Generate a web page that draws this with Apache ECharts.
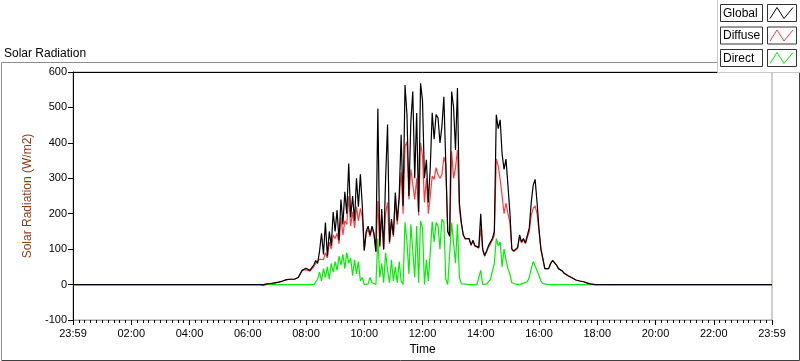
<!DOCTYPE html>
<html>
<head>
<meta charset="utf-8">
<title>Solar Radiation</title>
<script src="https://cdn.jsdelivr.net/npm/echarts@6.0.0/dist/echarts.min.js"></script>
<style>
  html, body { margin: 0; padding: 0; background: #fff; }
  #chart { width: 800px; height: 361px; }
</style>
</head>
<body>
<div id="chart"></div>
<script>
// readings every 4 minutes from 06:00 to 18:00, zero the rest of the day
var startMinute = 360
var stepMinutes = 4
var seriesNames = ['Global', 'Diffuse', 'Direct']
var seriesColors = ['#000000', '#ff3c3c', '#00f000']
var timeLabels = ['23:59', '02:00', '04:00', '06:00', '08:00', '10:00', '12:00',
  '14:00', '16:00', '18:00', '20:00', '22:00', '23:59']

var globalRad = [
  0, 0, 0, 0, 0, 0, 0, 0, 0,
  1, 2, 3, 3, 4, 5, 6, 7,
  8, 10, 12, 14, 15, 15, 16, 15, 17, 20,
  22,
  40, 38, 46, 44, 40, 48, 55, 68, 60, 95,
  145, 85, 175, 80, 150, 110, 205, 150, 210, 125,
  240, 170, 262, 200, 342, 190, 250, 180, 300, 220,
  311, 222, 96, 150, 165, 140, 165, 145, 93, 497,
  110, 213, 100, 300, 452, 120, 185, 140, 260, 180,
  250, 423, 222, 563, 480, 250, 460, 545, 300, 484,
  205, 568, 520, 300, 352, 232, 330, 485, 410, 480,
  470, 400, 446, 530, 535, 150, 138, 545, 500, 380,
  555, 230, 176, 140, 130, 125, 130, 112, 125, 110,
  112, 105, 200, 100, 82, 95, 110, 105, 130, 150,
  479, 440, 465, 368, 325, 354, 280, 205, 101, 95,
  90, 105, 140, 120, 130, 118, 115, 160, 232, 280,
  297, 232, 157, 100, 73, 45, 40, 45, 60, 68,
  66, 55, 45, 42, 38, 32, 28, 25, 22, 19,
  16, 13, 11, 10, 9, 8, 6, 4, 2, 1,
  0, 0, 0
]

var diffuseRad = [
  0, 0, 0, 0, 0, 0, 0,
  -3, -3,
  1, 2, 3, 3, 4, 5, 6, 7,
  8, 10, 12, 14, 15, 15, 16, 15, 17, 20,
  22,
  40, 38, 42, 40, 38, 44, 50, 60, 58, 72,
  75, 70, 90, 75, 120, 100, 140, 130, 145, 115,
  190, 140, 180, 170, 250, 165, 205, 160, 220, 180,
  215, 190, 96, 145, 155, 135, 160, 140, 93, 236,
  105, 190, 98, 200, 232, 115, 175, 135, 236, 170,
  240, 317, 200, 390, 404, 240, 325, 330, 240, 300,
  195, 400, 362, 232, 300, 200, 250, 306, 297, 330,
  310, 300, 310, 360, 340, 150, 135, 376, 300, 330,
  380, 213, 170, 140, 128, 124, 128, 110, 122, 108,
  110, 103, 160, 98, 80, 92, 105, 102, 125, 140,
  355, 335, 297, 250, 200, 230, 200, 175, 99, 93,
  88, 102, 135, 118, 126, 115, 112, 150, 195, 215,
  222, 200, 150, 98, 72, 45, 40, 45, 60, 68,
  66, 55, 45, 42, 38, 32, 28, 25, 22, 19,
  16, 13, 11, 10, 9, 8, 6, 4, 2, 1,
  0, 0, 0
]

var directRad = [
  0, 0, 0, 0, 0, 0, 0, 0, 0, 0,
  0, 0, 0, 0, 0, 0, 0, 0, 0, 0,
  0, 0, 0, 0, 0, 0, 0, 0, 0, 0,
  0, 0, 0, 0, 0,
  0, 15, 35, 10, 45, 20, 50, 15, 60, 35,
  65, 40, 80, 55, 85, 45, 90, 60, 75, 25,
  70, 30, 65, 10, 20, 0, 5, 2, 20, 5,
  2, 0, 130, 20, 60, 5, 90, 40, 5, 70,
  10, 50, 5, 65, 10, 0, 176, 120, 30, 170,
  175, 20, 165, 5, 180, 160, 0, 70, 10, 90,
  178, 120, 175, 165, 100, 185, 175, 15, 0, 5,
  175, 175, 60, 170, 20, 2, 2, 1, 1, 0,
  1, 0, 1, 0, 0, 40, 0, 0, 1, 5,
  15, 15, 60, 130, 110, 120, 50, 100, 70, 45,
  30, 5, 2, 1, 1, 0, 2, 4, 3, 8,
  20, 45, 65, 68, 40, 25, 10, 3, 0, 0,
  0, 0, 0, 0, 0, 0, 0, 0, 0, 0,
  0, 0, 0, 0, 0, 0, 0, 0, 0, 0,
  0, 0, 0, 0, 0, 0
]

var font = 'Liberation Sans, Arial, sans-serif'

function toPoints(values) {
  var pts = [[0, 0]]
  values.forEach(function (v, i) {
    pts.push([startMinute + i * stepMinutes, v])
  })
  pts.push([1440, 0])
  return pts
}

function lineSeries(idx, values) {
  return {
    name: seriesNames[idx],
    type: 'line',
    data: toPoints(values),
    showSymbol: false,
    symbol: 'none',
    animation: false,
    lineStyle: { color: seriesColors[idx], width: 1.2 },
    itemStyle: { color: seriesColors[idx] }
  }
}

// legend drawn LabVIEW style: name box + zigzag sample box
var legendParts = [{
  type: 'rect',
  shape: { x: 717.5, y: -1, width: 84, height: 73.5 },
  style: { fill: '#fff', stroke: '#c8c8c8', lineWidth: 1 },
  z: 10
}]
seriesNames.forEach(function (name, k) {
  var y0 = 4.5 + k * 22.5
  legendParts.push({
    type: 'rect',
    shape: { x: 720.5, y: y0, width: 42, height: 17 },
    style: { fill: '#fff', stroke: '#333', lineWidth: 1 },
    z: 11
  })
  legendParts.push({
    type: 'text',
    x: 723, y: y0 + 9,
    style: { text: name, fill: '#000', fontSize: 12, fontFamily: font, verticalAlign: 'middle' },
    z: 12
  })
  legendParts.push({
    type: 'rect',
    shape: { x: 767.5, y: y0, width: 29, height: 17 },
    style: { fill: '#fff', stroke: '#333', lineWidth: 1 },
    z: 11
  })
  legendParts.push({
    type: 'polyline',
    shape: { points: [[770, y0 + 14], [777, y0 + 3], [784, y0 + 14], [793, y0 + 3]] },
    style: { stroke: seriesColors[k], lineWidth: 1, fill: null },
    z: 12
  })
})

var chart = echarts.init(document.getElementById('chart'), null, { renderer: 'canvas' })
chart.setOption({
  backgroundColor: '#fff',
  animation: false,
  textStyle: { fontFamily: font },
  title: {
    text: 'Solar Radiation',
    left: -1,
    top: 43,
    textStyle: { fontSize: 12, fontWeight: 'normal', color: '#000', fontFamily: font }
  },
  grid: {
    left: 73,
    right: 28,
    top: 72,
    bottom: 39,
    show: true,
    backgroundColor: '#fff',
    borderColor: '#a0a0a0',
    borderWidth: 1
  },
  xAxis: [{
    type: 'value',
    position: 'bottom',
    min: 0,
    max: 1440,
    interval: 120,
    name: 'Time',
    nameLocation: 'middle',
    nameGap: 24,
    nameTextStyle: { color: '#000', fontSize: 12 },
    axisLine: { show: true, onZero: false, lineStyle: { color: '#a0a0a0' } },
    axisTick: { show: true, length: 5, lineStyle: { color: '#000' } },
    minorTick: { show: true, splitNumber: 10, length: 3, lineStyle: { color: '#000' } },
    splitLine: { show: false },
    axisLabel: {
      margin: 8,
      color: '#000',
      fontSize: 11,
      showMinLabel: true,
      showMaxLabel: true,
      formatter: function (v) { return timeLabels[Math.round(v / 120)] }
    }
  }, {
    type: 'value',
    position: 'top',
    min: 0,
    max: 1440,
    axisLine: { show: true, onZero: false, lineStyle: { color: '#000' } },
    axisTick: { show: false },
    axisLabel: { show: false },
    splitLine: { show: false }
  }],
  yAxis: {
    type: 'value',
    min: -100,
    max: 600,
    interval: 100,
    name: 'Solar Radiation (W/m2)',
    nameLocation: 'middle',
    nameRotate: 90,
    nameGap: 35,
    nameTextStyle: { color: '#8a3a14', fontSize: 12 },
    axisLine: { show: true, onZero: false, lineStyle: { color: '#000' } },
    axisTick: { show: true, length: 5, lineStyle: { color: '#000' } },
    splitLine: { show: false },
    axisLabel: { margin: 6, color: '#000', fontSize: 11 }
  },
  series: [
    lineSeries(2, directRad),
    lineSeries(1, diffuseRad),
    lineSeries(0, globalRad)
  ],
  graphic: [{
    type: 'polyline',
    shape: { points: [[1.5, 360], [1.5, 62.5], [717, 62.5]] },
    style: { stroke: '#8c8c8c', lineWidth: 1, fill: null },
    z: 5
  }, {
    type: 'polyline',
    shape: { points: [[1.5, 360.5], [799.5, 360.5], [799.5, 72]] },
    style: { stroke: '#404040', lineWidth: 1, fill: null },
    z: 5
  }].concat(legendParts)
})
</script>
</body>
</html>
